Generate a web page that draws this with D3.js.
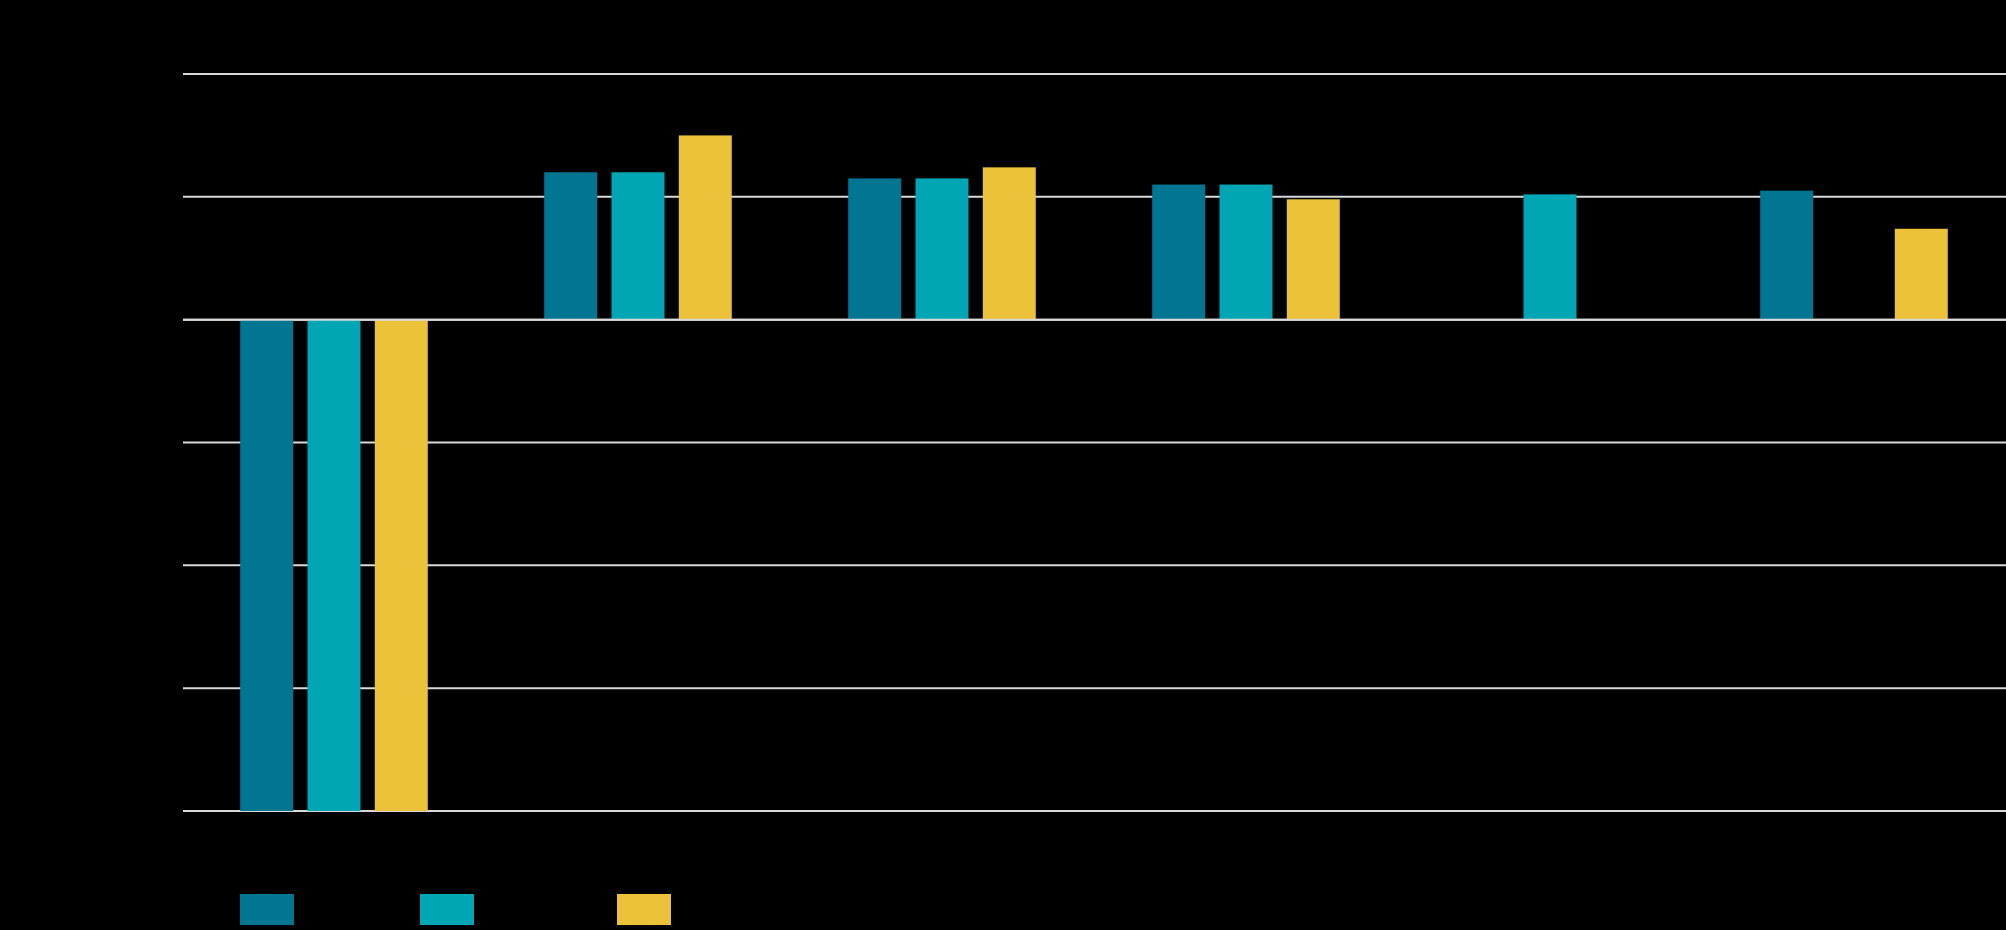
<!DOCTYPE html>
<html>
<head>
<meta charset="utf-8">
<script src="https://cdn.jsdelivr.net/npm/d3@7"></script>
<style>
  html, body { margin: 0; padding: 0; background: #000; }
  svg { display: block; }
</style>
</head>
<body>
<svg id="chart" width="2006" height="930"></svg>
<script>
// ---- data ----
const categories = ["A", "B", "C", "D", "E", "F"];
const seriesNames = ["Series 1", "Series 2", "Series 3"];
const series1 = [-4.0, 1.20, 1.15, 1.10, null, 1.05];
const series2 = [-4.0, 1.20, 1.15, 1.10, 1.02, null];
const series3 = [-4.0, 1.50, 1.24, 0.98, null, 0.74];
const tickValues = [-4, -3, -2, -1, 0, 1, 2];
const seriesColors = ["#007692", "#00A6B3", "#EBC239"];

const allSeries = [series1, series2, series3];

const svg = d3.select("#chart");
const W = 2006, H = 930;
svg.append("rect").attr("width", W).attr("height", H).attr("fill", "#000");

const margin = { left: 182, right: 0, top: 74, bottom: 119 };

const x0 = d3.scaleBand().domain(categories)
  .range([margin.left, W - margin.right]).paddingInner(0).paddingOuter(0);
const x1 = d3.scaleBand().domain(seriesNames)
  .range([0, x0.bandwidth()]).paddingInner(0.2125).paddingOuter(0.865);
const y = d3.scaleLinear().domain([-4, 2]).range([H - margin.bottom, margin.top]);

// gridlines
const grid = svg.append("g").attr("class", "grid");
grid.selectAll("line").data(tickValues).join("line")
  .attr("x1", margin.left + 1).attr("x2", W)
  .attr("y1", d => y(d)).attr("y2", d => y(d))
  .attr("stroke", "#d9d9d9").attr("stroke-width", 2);

// bars
const rows = [];
categories.forEach((c, i) => {
  seriesNames.forEach((s, j) => {
    const v = allSeries[j][i];
    if (v !== null && v !== undefined) rows.push({ c, s, v, j });
  });
});

svg.append("g").selectAll("rect").data(rows).join("rect")
  .attr("x", d => x0(d.c) + x1(d.s))
  .attr("width", x1.bandwidth())
  .attr("y", d => y(Math.max(0, d.v)))
  .attr("height", d => Math.abs(y(d.v) - y(0)))
  .attr("fill", d => seriesColors[d.j]);

// zero line on top
svg.append("line")
  .attr("x1", margin.left + 1).attr("x2", W)
  .attr("y1", y(0)).attr("y2", y(0))
  .attr("stroke", "#d9d9d9").attr("stroke-width", 2);

// legend
const legendOffsets = [240, 420, 617];
const legend = svg.append("g").attr("class", "legend");
legend.selectAll("rect").data(seriesNames).join("rect")
  .attr("x", (d, i) => legendOffsets[i])
  .attr("y", 894)
  .attr("width", 54)
  .attr("height", 31)
  .attr("fill", (d, i) => seriesColors[i]);
</script>
</body>
</html>
